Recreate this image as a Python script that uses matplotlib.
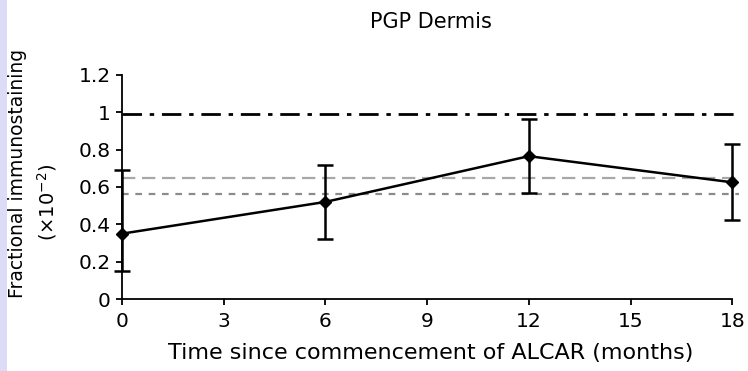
import numpy as np
import matplotlib.pyplot as plt
from matplotlib.patches import Rectangle

plt.rcParams['font.family'] = ['DejaVu Sans']

# data
months = [0, 6, 12, 18]
staining = [0.35, 0.52, 0.765, 0.625]
err_low = [0.20, 0.20, 0.195, 0.20]
err_high = [0.34, 0.20, 0.20, 0.205]

ref_healthy = 0.99      # dash-dot reference level
ref_upper = 0.65        # grey long dash
ref_lower = 0.56        # grey short dash

xticks = [0, 3, 6, 9, 12, 15, 18]
yticks = [0, 0.2, 0.4, 0.6, 0.8, 1, 1.2]
yticklabels = ['0', '0.2', '0.4', '0.6', '0.8', '1', '1.2']

W, H = 748, 371
fig = plt.figure(figsize=(W / 100, H / 100), dpi=100)
fig.patches.append(Rectangle((0, 0), 7 / W, 1, transform=fig.transFigure,
                             facecolor='#dcdcf6', edgecolor='none', zorder=0))
ax = fig.add_axes([0.163, 0.194, 0.825, 0.604])

xmax = 18.2
ax.hlines(ref_healthy, 0, xmax, colors='black', linewidth=2,
          linestyles=[(0, (7, 2.8, 1.6, 2.8))], clip_on=False)
ax.hlines(ref_upper, 0, xmax, colors='#a8a8a8', linewidth=1.6,
          linestyles=[(0, (6, 3))], clip_on=False)
ax.hlines(ref_lower, 0, xmax, colors='#8c8c8c', linewidth=1.6,
          linestyles=[(0, (3, 3))], clip_on=False)

ax.errorbar(months, staining, yerr=[err_low, err_high], color='black',
            linewidth=1.8, elinewidth=1.8, capsize=6, capthick=1.8,
            marker='D', markersize=6.5, clip_on=False, zorder=5)

ax.set_xlim(0, xmax)
ax.set_ylim(0, 1.2)
ax.spines['top'].set_visible(False)
ax.spines['right'].set_visible(False)
ax.spines['bottom'].set_bounds(0, 18)
ax.spines['left'].set_linewidth(1.3)
ax.spines['bottom'].set_linewidth(1.3)

ax.set_xticks(xticks)
ax.set_yticks(yticks)
ax.set_yticklabels(yticklabels)
ax.tick_params(labelsize=14.5, length=4, width=1.3)
ax.tick_params(axis='x', pad=5)
ax.tick_params(axis='y', pad=4)

ax.set_title('PGP Dermis', fontsize=15, pad=34)
ax.set_xlabel('Time since commencement of ALCAR (months)', fontsize=16, labelpad=9)

# two-line y label, second line sits a little lower than the first
fig.text(18 / W, 1 - 173 / H, 'Fractional immunostaining', rotation=90,
         ha='center', va='center', fontsize=13.5)
fig.text(47 / W, 1 - 202 / H, r'($\times$10$^{-2}$)', rotation=90,
         ha='center', va='center', fontsize=14)

fig.savefig('out.png', dpi=100)
